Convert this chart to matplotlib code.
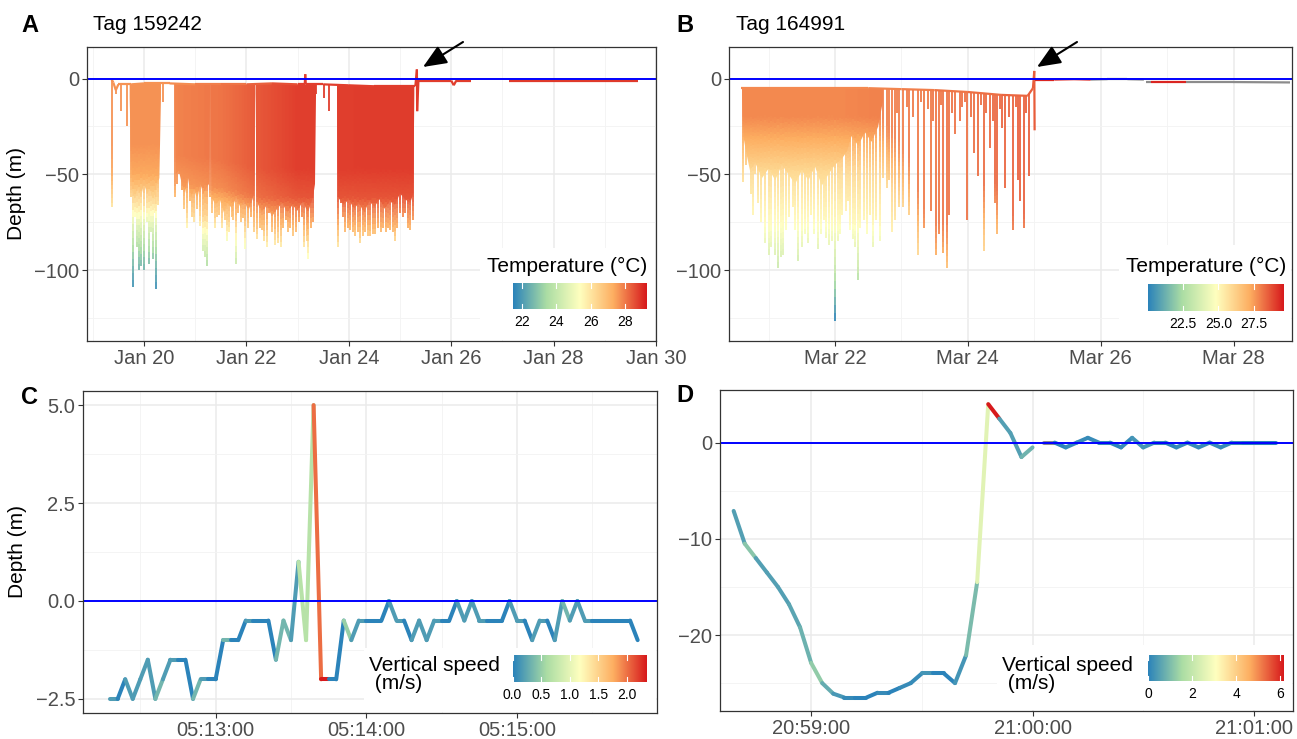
import numpy as np
import matplotlib
matplotlib.use('Agg')
import matplotlib.pyplot as plt
from matplotlib.collections import LineCollection
from matplotlib.colors import LinearSegmentedColormap, Normalize
from matplotlib.patches import Rectangle, PathPatch, FancyArrowPatch
from matplotlib.path import Path

plt.rcParams['font.family'] = ['Liberation Sans', 'DejaVu Sans']

# ---------------- DATA ----------------
# Panel A (Tag 159242) - x in days of January
A_surf_day = [19.37, 19.40, 19.45, 19.50, 19.60, 19.75, 20.0, 20.5, 21.0, 21.5, 22.0, 22.5, 23.0,
              23.14, 23.15, 23.16, 23.5, 24.0, 24.5, 25.0, 25.30, 25.33, 25.335, 25.36, 25.6,
              26.0, 26.05, 26.1, 26.39, np.nan, 27.13, 28.0, 29.64]
A_surf_depth = [-0.5, -2, -6, -3, -3, -3, -2.5, -2.5, -3, -3, -3, -2.5, -3,
                -3, 2.3, -3, -3, -3.5, -4, -4, -4, 4.8, -17, -1, -1,
                -1, -3.5, -1, -1, np.nan, -1, -1, -1]
A_spike_day = [19.375, 19.46, 19.56, 19.66, 19.74, 19.79, 19.82, 19.87, 19.91, 19.95, 20.01, 20.05, 20.09,
               20.13, 20.17, 20.21, 20.24, 20.28, 20.32, 20.38,
               20.61, 20.64, 20.69, 20.74, 20.79, 20.84, 20.89, 20.94, 20.98, 21.04,
               21.10, 21.15, 21.20, 21.23, 21.28, 21.33, 21.38, 21.43, 21.47, 21.53,
               21.58, 21.62, 21.66, 21.71, 21.74, 21.79, 21.84, 21.89, 21.94, 21.98,
               22.04, 22.09, 22.15,
               22.21, 22.26, 22.30, 22.35, 22.40, 22.45, 22.50, 22.56, 22.62, 22.67,
               22.72, 22.77, 22.81, 22.86, 22.91, 22.97, 23.03, 23.08, 23.13, 23.18,
               23.21, 23.26, 23.31, 23.36, 23.51, 23.61,
               23.79, 23.84, 23.88, 23.93, 23.98, 24.03, 24.08, 24.13, 24.18, 24.22,
               24.27, 24.32, 24.37, 24.42, 24.47, 24.52, 24.57, 24.62, 24.67, 24.72,
               24.77, 24.81, 24.86, 24.91, 24.95, 25.00, 25.05, 25.10, 25.15, 25.20,
               25.25]
A_spike_depth = [-67, -8, -17, -25, -62, -109, -72, -88, -100, -98, -100, -75, -97,
                 -80, -94, -70, -110, -66, -11, -12,
                 -62, -55, -50, -58, -68, -78, -64, -72, -75, -68,
                 -77, -90, -93, -98, -62, -70, -78, -72, -71, -78,
                 -74, -85, -80, -72, -74, -97, -70, -75, -73, -89,
                 -78, -72, -80,
                 -84, -78, -79, -85, -88, -70, -80, -87, -86, -88,
                 -78, -74, -80, -78, -82, -80, -75, -72, -88, -85,
                 -94, -78, -75, -8, -10, -17,
                 -88, -65, -72, -80, -78, -79, -80, -82, -80, -86,
                 -82, -80, -82, -82, -81, -81, -78, -80, -78, -80,
                 -78, -79, -80, -85, -78, -70, -72, -70, -78, -79,
                 -74]
# lower envelope of the dense diving bouts (NaN separates bouts)
A_env_day = [19.72, 19.76, 19.82, 19.88, 19.94, 20.00, 20.06, 20.12, 20.18, 20.24, 20.30, 20.33, np.nan,
             20.60, 20.62, 20.68, 20.74, 20.80, 20.86, 20.92, 20.98, 21.04, 21.10, 21.16, 21.22, 21.27, 21.29, np.nan,
             21.30, 21.32, 21.40, 21.48, 21.56, 21.64, 21.72, 21.80, 21.88, 21.96, 22.04, 22.12, 22.15, 22.17, np.nan,
             22.18, 22.20, 22.30, 22.40, 22.50, 22.60, 22.70, 22.80, 22.90, 23.00, 23.10, 23.20, 23.30, 23.34, 23.36, np.nan,
             23.77, 23.79, 23.90, 24.00, 24.10, 24.20, 24.30, 24.40, 24.50, 24.60, 24.70, 24.80, 24.90, 25.00,
             25.10, 25.20, 25.26, 25.28]
A_env_depth = [-10, -58, -63, -57, -62, -55, -60, -58, -64, -56, -52, -12, np.nan,
               -8, -50, -48, -55, -60, -52, -62, -58, -63, -55, -60, -57, -55, -8, np.nan,
               -8, -62, -66, -63, -70, -65, -68, -62, -67, -64, -69, -63, -60, -8, np.nan,
               -8, -64, -70, -66, -72, -68, -65, -70, -66, -69, -64, -70, -62, -55, -8, np.nan,
               -8, -62, -66, -63, -68, -65, -70, -64, -67, -63, -68, -64, -66, -60,
               -63, -65, -60, -8]
# water temperature structure (surface temp by day, mixed layer, drop below it)
A_ts_day = [19.3, 20.4, 20.6, 21.5, 22.3, 23.0, 29.7]
A_ts = [27.6, 27.6, 27.8, 28.0, 28.4, 28.7, 28.8]
A_mix_day = [19.3, 20.4, 20.6, 21.5, 22.3, 29.7]
A_mix = [-35, -35, -40, -42, -47, -47]
A_rel = [0, 15, 30, 40, 50, 60, 75, 85]
A_drop = [0, 0.3, 1.5, 2.8, 3.8, 4.8, 5.9, 6.2]
A_temp_lim = [21.46, 29.2]
A_cbar_ticks = [22, 24, 26, 28]
A_cbar_labels = ['22', '24', '26', '28']
A_xticks = [20, 22, 24, 26, 28, 30]
A_xlabels = ['Jan 20', 'Jan 22', 'Jan 24', 'Jan 26', 'Jan 28', 'Jan 30']

# Panel B (Tag 164991) - x in days of March
B_surf_day = [20.58, 21.0, 21.5, 22.0, 22.5, 23.0, 23.5, 24.0, 24.5, 24.9, 24.98, 25.0, 25.005]
B_surf_depth = [-5, -5, -5, -5, -5, -5.5, -6, -7, -8.5, -9, -5, 4.0, -27]
B_tail_day = [25.01, 25.3, 25.6, 25.85, 26.1, 26.4, 26.65, np.nan, 26.68, 26.75, 27.28, 28.0, 28.85]
B_tail_depth = [-0.5, -0.5, -0.3, -0.5, -0.3, -0.3, -0.5, np.nan, -1.8, -1.8, -1.8, -1.8, -2.0]
B_tail_temp = [29.3, 29.3, 29.3, np.nan, np.nan, np.nan, np.nan, np.nan, np.nan, 29.3, np.nan, np.nan, np.nan]
B_spike_day = [20.61, 20.66, 20.73, 20.76, 20.80, 20.84, 20.88, 20.95, 21.00, 21.04,
               21.09, 21.14, 21.18, 21.22, 21.26, 21.31, 21.36, 21.40, 21.45, 21.50,
               21.55, 21.60, 21.64, 21.68, 21.74, 21.79, 21.83, 21.86, 21.91, 21.96,
               22.00, 22.04, 22.08, 22.11, 22.16, 22.19, 22.23, 22.27, 22.30, 22.35,
               22.38, 22.43, 22.48, 22.52, 22.57, 22.62, 22.67, 22.72, 22.78, 22.82,
               22.86, 22.90, 22.96, 23.03, 23.12, 23.25, 23.34, 23.44, 23.52, 23.56,
               23.63, 23.68, 23.72, 23.80, 23.88, 23.91, 23.99, 24.10, 24.16, 24.24,
               24.33, 24.41, 24.44, 24.51, 24.56, 24.68, 24.75, 24.79, 24.85, 24.92,
               22.93, 23.08, 23.18, 23.30, 23.40, 23.48, 23.60, 23.76, 23.95, 24.05,
               24.20, 24.28, 24.38, 24.48, 24.62, 24.72, 24.88]
B_spike_depth = [-54, -45, -60, -71, -50, -65, -75, -86, -92, -88,
                 -92, -99, -93, -92, -79, -72, -67, -79, -95, -88,
                 -81, -86, -71, -81, -89, -81, -74, -83, -87, -85,
                 -126.5, -85, -81, -71, -69, -64, -79, -84, -88, -105,
                 -78, -74, -81, -71, -88, -74, -85, -52, -57, -53,
                 -80, -74, -67, -67, -71, -92, -78, -69, -92, -81,
                 -91, -99, -71, -29, -22, -15, -74, -39, -51, -90,
                 -36, -65, -81, -26, -57, -79, -53, -64, -78, -51,
                 -18, -15, -20, -12, -16, -22, -14, -18, -12, -20,
                 -14, -18, -22, -16, -20, -15, -18]
B_env_day = [20.60, 20.62, 20.66, 20.72, 20.80, 20.90, 21.00, 21.10, 21.20, 21.30, 21.40, 21.50, 21.60,
             21.70, 21.80, 21.90, 22.00, 22.10, 22.18, 22.25, 22.35, 22.45, 22.55, 22.65, 22.72]
B_env_depth = [-8, -30, -38, -48, -44, -52, -47, -53, -45, -50, -55, -48, -53,
               -46, -56, -50, -45, -42, -38, -30, -35, -28, -33, -25, -12]
B_ts_day = [20.5, 22.0, 23.0, 24.0, 25.0, 29.0]
B_ts = [27.7, 27.7, 27.9, 28.1, 28.4, 28.5]
B_mix_day = [20.5, 22.7, 23.1, 23.4, 24.1, 24.3, 24.6, 25.1]
B_mix = [-20, -20, -40, -75, -75, -45, -70, -70]
B_rel = [0, 10, 30, 55, 70, 80, 106]
B_drop = [0, 0.5, 1.9, 2.8, 3.8, 4.5, 7.6]
B_temp_lim = [20.06, 29.5]
B_cbar_ticks = [22.5, 25.0, 27.5]
B_cbar_labels = ['22.5', '25.0', '27.5']
B_xticks = [22, 24, 26, 28]
B_xlabels = ['Mar 22', 'Mar 24', 'Mar 26', 'Mar 28']

# Panel C - seconds after 05:12:00
C_time = [18, 21, 24, 27, 30, 33, 36, 39, 42, 45, 48, 51, 54, 57, 60, 63, 66, 69, 72, 75,
          78, 81, 84, 87, 90, 93, 96, 99, 102, 105, 108, 111, 114, 117, 120, 123, 126, 129, 132, 135,
          138, 141, 144, 147, 150, 153, 156, 159, 162, 165, 168, 171, 174, 177, 180, 183, 186, 189, 192, 195,
          198, 201, 204, 207, 210, 213, 216, 219, 222, 225, 228]
C_depth = [-2.5, -2.5, -2.0, -2.5, -2.0, -1.5, -2.5, -2.0, -1.5, -1.5, -1.5, -2.5, -2.0, -2.0, -2.0, -1.0, -1.0, -1.0, -0.5, -0.5,
           -0.5, -0.5, -1.5, -0.5, -1.0, 1.0, -1.0, 5.0, -2.0, -2.0, -2.0, -0.5, -1.0, -0.5, -0.5, -0.5, -0.5, 0.0, -0.5, -0.5,
           -1.0, -0.5, -1.0, -0.5, -0.5, -0.5, 0.0, -0.5, 0.0, -0.5, -0.5, -0.5, -0.5, 0.0, -0.5, -0.5, -1.0, -0.5, -0.5, -1.0,
           0.0, -0.5, 0.0, -0.5, -0.5, -0.5, -0.5, -0.5, -0.5, -0.5, -1.0]
C_speed_first = 0.17
C_xticks = [60, 120, 180]
C_xlabels = ['05:13:00', '05:14:00', '05:15:00']
C_cbar_ticks = [0.0, 0.5, 1.0, 1.5, 2.0]
C_cbar_labels = ['0.0', '0.5', '1.0', '1.5', '2.0']

# Panel D - seconds after 20:59:00 (two tracks)
D1_time = [-21, -18, -15, -12, -9, -6, -3, 0, 3, 6, 9, 12, 15, 18, 21, 24, 27, 30, 33, 36,
           39, 42, 45, 48, 51, 54, 57, 60]
D1_depth = [-7.1, -10.5, -12.0, -13.5, -15.0, -16.8, -19.2, -22.9, -25.0, -26.1, -26.5, -26.5, -26.5, -26.0, -26.0,
            -25.5, -25.0, -24.0, -24.0, -24.0, -25.0, -22.1, -14.5, 4.0, 2.5, 1.0, -1.5, -0.5]
D1_speed_first = 0.5
D2_time = [63, 66, 69, 72, 75, 78, 81, 84, 87, 90, 93, 96, 99, 102, 105, 108, 111, 114, 117, 120, 123, 126]
D2_depth = [0, 0, -0.5, 0, 0.5, 0, 0, -0.5, 0.5, -0.5, 0, 0, -0.5, 0, -0.5, 0, -0.5, 0, 0, 0, 0, 0]
D2_speed_first = np.nan
D_xticks = [0, 60, 120]
D_xlabels = ['20:59:00', '21:00:00', '21:01:00']
D_cbar_ticks = [0, 2, 4, 6]
D_cbar_labels = ['0', '2', '4', '6']

# ---------------- STYLE ----------------
W, H = 1297, 739
fig = plt.figure(figsize=(W / 100, H / 100), dpi=100)
cmap = LinearSegmentedColormap.from_list('spec5', ['#2b83ba', '#abdda4', '#ffffbf', '#fdae61', '#d7191c'])
NA_COL = '#8c8c8c'
TICK_COL = '#4d4d4d'


def prect(l, t, r, b):
    return [l / W, 1 - b / H, (r - l) / W, (b - t) / H]


def style(ax, xlim, ylim, xt, xl, xminor, yt, yl, yminor):
    ax.set_xlim(xlim)
    ax.set_ylim(ylim)
    ax.set_xticks(xt)
    ax.set_xticklabels(xl)
    ax.set_xticks(xminor, minor=True)
    ax.set_yticks(yt)
    ax.set_yticklabels(yl)
    ax.set_yticks(yminor, minor=True)
    ax.set_axisbelow(True)
    ax.grid(which='major', color='#ebebeb', lw=1.1)
    ax.grid(which='minor', color='#f3f3f3', lw=0.6)
    ax.tick_params(which='major', length=3.5, width=0.8, color='#333333', labelsize=14.5,
                   labelcolor=TICK_COL, pad=2)
    ax.tick_params(which='minor', length=0)
    for s in ax.spines.values():
        s.set_color('#333333')
        s.set_linewidth(0.9)
        s.set_zorder(7)


def legend_box(ax, l, t, r, b):
    ax.add_patch(Rectangle((l / W, 1 - b / H), (r - l) / W, (b - t) / H, transform=fig.transFigure,
                           facecolor='white', edgecolor='none', zorder=6))


def colorbar(l, t, r, b, lim, ticks, labels):
    cax = fig.add_axes(prect(l, t, r, b))
    grad = np.linspace(lim[0], lim[1], 256)[None, :]
    cax.imshow(grad, extent=[lim[0], lim[1], 0, 1], aspect='auto', cmap=cmap,
               vmin=lim[0], vmax=lim[1], interpolation='bilinear')
    cax.set_xlim(lim)
    cax.set_ylim(0, 1)
    cax.set_yticks([])
    for s in cax.spines.values():
        s.set_visible(False)
    cax.set_xticks(ticks)
    cax.set_xticklabels(labels, fontsize=10, color='black')
    cax.tick_params(axis='x', length=0, pad=4)
    for tk in ticks:
        cax.plot([tk, tk], [0, 0.2], color='white', lw=0.8)
        cax.plot([tk, tk], [0.8, 1], color='white', lw=0.8)
    return cax


def make_field(ts_day, ts, mix_day, mix, rel, drop):
    def f(day, depth):
        s = np.interp(day, ts_day, ts)
        m = np.interp(day, mix_day, mix)
        below = np.clip(m - depth, 0, None)
        return s - np.interp(below, rel, drop)
    return f


def split_nan(x, y):
    x = np.asarray(x, float)
    y = np.asarray(y, float)
    groups, cur = [], []
    for a, b in zip(x, y):
        if np.isnan(a):
            if cur:
                groups.append(np.array(cur))
            cur = []
        else:
            cur.append((a, b))
    if cur:
        groups.append(np.array(cur))
    return groups


def depth_panel(ax, xlim, ylim, surf_day, surf_depth, spike_day, spike_depth,
                env_day, env_depth, field, lim):
    norm = Normalize(lim[0], lim[1])
    sd = np.asarray(surf_day, float)
    sz = np.asarray(surf_depth, float)
    ok = ~np.isnan(sd)
    bday, bdep = sd[ok], sz[ok]
    # dense diving bouts: temperature field clipped to the area between surface and envelope
    gx = np.linspace(xlim[0], xlim[1], 900)
    gy = np.linspace(ylim[0], ylim[1], 500)
    GX, GY = np.meshgrid(gx, gy)
    im = ax.imshow(field(GX, GY), extent=[xlim[0], xlim[1], ylim[0], ylim[1]], origin='lower',
                   aspect='auto', cmap=cmap, norm=norm, zorder=2, interpolation='bilinear')
    verts, codes = [], []
    for g in split_nan(env_day, env_depth):
        top = [(x, np.interp(x, bday, bdep)) for x in g[:, 0]]
        bottom = [tuple(p) for p in g[::-1]]
        poly = top + bottom
        verts += poly + [poly[0]]
        codes += [Path.MOVETO] + [Path.LINETO] * (len(poly) - 1) + [Path.CLOSEPOLY]
    patch = PathPatch(Path(verts, codes), transform=ax.transData, facecolor='none', edgecolor='none')
    ax.add_patch(patch)
    im.set_clip_path(patch)
    # individual dives
    segs, cols = [], []
    for d, z in zip(spike_day, spike_depth):
        b = np.interp(d, bday, bdep)
        zs = np.linspace(b, z, 30)
        pts = np.column_stack([np.full(30, d), zs])
        segs.append(np.stack([pts[:-1], pts[1:]], axis=1))
        cols.append(field(np.full(29, d), 0.5 * (zs[:-1] + zs[1:])))
    ax.add_collection(LineCollection(np.concatenate(segs), colors=cmap(norm(np.concatenate(cols))),
                                     linewidths=1.3, capstyle='butt', zorder=3))
    # surface trace
    s2, c2 = [], []
    for i in range(len(sd) - 1):
        if np.isnan(sd[i]) or np.isnan(sd[i + 1]):
            continue
        s2.append([(sd[i], sz[i]), (sd[i + 1], sz[i + 1])])
        c2.append(field(sd[i], sz[i]))
    ax.add_collection(LineCollection(s2, colors=cmap(norm(np.array(c2))), linewidths=1.6,
                                     capstyle='butt', zorder=3.5))
    ax.axhline(0, color='#0000ff', lw=1.4, zorder=4)
    return norm


def tail(ax, day, depth, temp, lim):
    norm = Normalize(lim[0], lim[1])
    for i in range(len(day) - 1):
        if np.isnan(day[i]) or np.isnan(day[i + 1]):
            continue
        c = NA_COL if np.isnan(temp[i]) else cmap(norm(temp[i]))
        ax.plot([day[i], day[i + 1]], [depth[i], depth[i + 1]], color=c, lw=1.6, zorder=3.5,
                solid_capstyle='butt')


def speed_track(ax, t, d, sp0, vmax, lw=2.9):
    t = np.asarray(t, float)
    d = np.asarray(d, float)
    sp = np.empty(len(t))
    sp[0] = sp0
    sp[1:] = np.abs(np.diff(d)) / np.diff(t)
    pts = np.column_stack([t, d])
    segs = np.stack([pts[:-1], pts[1:]], axis=1)
    norm = Normalize(0, vmax)
    cols = [NA_COL if np.isnan(v) else cmap(norm(v)) for v in sp[:-1]]
    ax.add_collection(LineCollection(segs, colors=cols, linewidths=lw, capstyle='round',
                                     joinstyle='round', zorder=3))


def max_speed(t, d):
    return np.max(np.abs(np.diff(np.asarray(d, float))) / np.diff(np.asarray(t, float)))


# ---------------- PANEL A ----------------
axA = fig.add_axes(prect(87, 47, 656, 341))
A_xlim = (18.887, 30.0)
A_ylim = (-137, 16.5)
style(axA, A_xlim, A_ylim, A_xticks, A_xlabels, [19, 21, 23, 25, 27, 29],
      [-100, -50, 0], ['\u2212100', '\u221250', '0'], [-125, -75, -25])
fA = make_field(A_ts_day, A_ts, A_mix_day, A_mix, A_rel, A_drop)
depth_panel(axA, A_xlim, A_ylim, A_surf_day, A_surf_depth, A_spike_day, A_spike_depth,
            A_env_day, A_env_depth, fA, A_temp_lim)
axA.set_ylabel('Depth (m)', fontsize=15, labelpad=6)
legend_box(axA, 480, 248, 655, 340)

# ---------------- PANEL B ----------------
axB = fig.add_axes(prect(729, 47, 1292, 341))
B_xlim = (20.404, 28.88)
B_ylim = (-137, 16.5)
style(axB, B_xlim, B_ylim, B_xticks, B_xlabels, [21, 23, 25, 27],
      [-100, -50, 0], ['\u2212100', '\u221250', '0'], [-125, -75, -25])
fB = make_field(B_ts_day, B_ts, B_mix_day, B_mix, B_rel, B_drop)
depth_panel(axB, B_xlim, B_ylim, B_surf_day, B_surf_depth, B_spike_day, B_spike_depth,
            B_env_day, B_env_depth, fB, B_temp_lim)
tail(axB, np.asarray(B_tail_day, float), np.asarray(B_tail_depth, float),
     np.asarray(B_tail_temp, float), B_temp_lim)
legend_box(axB, 1119, 245, 1291, 340)

# ---------------- PANEL C ----------------
axC = fig.add_axes(prect(83, 391, 657, 713))
C_xlim = (7.2, 235.7)
C_ylim = (-2.86, 5.36)
style(axC, C_xlim, C_ylim, C_xticks, C_xlabels, [30, 90, 150, 210],
      [-2.5, 0, 2.5, 5.0], ['\u22122.5', '0.0', '2.5', '5.0'], [-1.25, 1.25, 3.75])
C_vmax = max_speed(C_time, C_depth)
speed_track(axC, C_time, C_depth, C_speed_first, C_vmax)
axC.axhline(0, color='#0000ff', lw=1.4, zorder=4)
axC.set_ylabel('Depth (m)', fontsize=15, labelpad=6)
legend_box(axC, 364, 648, 656, 712)

# ---------------- PANEL D ----------------
axD = fig.add_axes(prect(720, 390, 1293, 711))
D_xlim = (-24.7, 130.6)
D_ylim = (-27.9, 5.47)
style(axD, D_xlim, D_ylim, D_xticks, D_xlabels, [30, 90],
      [-20, -10, 0], ['\u221220', '\u221210', '0'], [-25, -15, -5])
D_vmax = max(max_speed(D1_time, D1_depth), max_speed(D2_time, D2_depth))
speed_track(axD, D1_time, D1_depth, D1_speed_first, D_vmax)
speed_track(axD, D2_time, D2_depth, D2_speed_first, D_vmax)
axD.axhline(0, color='#0000ff', lw=1.4, zorder=4)
legend_box(axD, 997, 645, 1292, 710)

# ---------------- LEGENDS ----------------
colorbar(512.6, 283, 646, 309, A_temp_lim, A_cbar_ticks, A_cbar_labels)
fig.text(567 / W, 1 - 266 / H, 'Temperature (\u00b0C)', fontsize=15, ha='center', va='center')
colorbar(1147.5, 284, 1283, 311, B_temp_lim, B_cbar_ticks, B_cbar_labels)
fig.text(1206 / W, 1 - 266 / H, 'Temperature (\u00b0C)', fontsize=15, ha='center', va='center')
colorbar(512.6, 655, 646, 682, [0, C_vmax], C_cbar_ticks, C_cbar_labels)
fig.text(369 / W, 1 - 656 / H, 'Vertical speed\n (m/s)', fontsize=15, ha='left', va='top', linespacing=0.95)
colorbar(1148, 655, 1284, 681, [0, D_vmax], D_cbar_ticks, D_cbar_labels)
fig.text(1002 / W, 1 - 656 / H, 'Vertical speed\n (m/s)', fontsize=15, ha='left', va='top', linespacing=0.95)

# ---------------- LABELS & ARROWS ----------------
for txt, x, y in [('A', 30, 25), ('B', 685, 25), ('C', 29, 397), ('D', 685, 396)]:
    fig.text(x / W, 1 - y / H, txt, fontsize=17, fontweight='bold', ha='center', va='center')
fig.text(93 / W, 1 - 25 / H, 'Tag 159242', fontsize=15, ha='left', va='center')
fig.text(736 / W, 1 - 25 / H, 'Tag 164991', fontsize=15, ha='left', va='center')

for (x0, y0, x1, y1) in [(463, 42, 423, 67), (1077, 42, 1037, 67)]:
    fig.add_artist(FancyArrowPatch(
        (x0 / W, 1 - y0 / H), (x1 / W, 1 - y1 / H), transform=fig.transFigure,
        arrowstyle='-|>,head_length=0.9,head_width=0.38', mutation_scale=16,
        lw=1.5, color='black', shrinkA=0, shrinkB=0))

fig.savefig('out.png', dpi=100)
